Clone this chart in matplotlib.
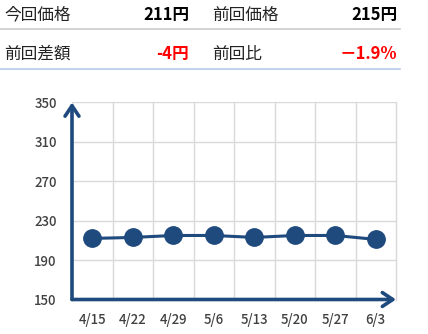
import matplotlib.pyplot as plt
from matplotlib.lines import Line2D

plt.rcParams['font.family'] = ['Noto Sans CJK JP', 'DejaVu Sans']

dates = ['4/15', '4/22', '4/29', '5/6', '5/13', '5/20', '5/27', '6/3']
prices = [212, 213, 215, 215, 213, 215, 215, 211]
yticks = [150, 190, 230, 270, 310, 350]

navy = '#1f4a7e'
W, H = 428, 334

fig = plt.figure(figsize=(W / 100, H / 100), dpi=100)

# header table
def px(x, y):
    return x / W, 1 - y / H

rows = [
    [('今回価格', '211円', 'black'), ('前回価格', '215円', 'black')],
    [('前回差額', '-4円', '#ff0000'), ('前回比', '－1.9%', '#ff0000')],
]
row_y = [15, 54]
cols = [(4, 189), (212, 397)]
for r, row in enumerate(rows):
    for c, (lab, val, col) in enumerate(row):
        fig.text(*px(cols[c][0], row_y[r]), lab, ha='left', va='center',
                 fontsize=12, color='#222222')
        fig.text(*px(cols[c][1], row_y[r]), val, ha='right', va='center',
                 fontsize=12, color=col, fontweight='bold')
fig.add_artist(Line2D([0, 400 / W], [1 - 28.5 / H] * 2, color='#cccccc', lw=1.2))
fig.add_artist(Line2D([0, 400 / W], [1 - 68.5 / H] * 2, color='#b4cde8', lw=1.2))

# chart
ax = fig.add_axes([72 / W, 1 - 299.5 / H, (396 - 72) / W, (299.5 - 102.5) / H])
x = range(len(dates))
ax.plot(x, prices, color=navy, lw=2.2, marker='o', markersize=12.5, zorder=3)
ax.set_xlim(-0.5, len(dates) - 0.5)
ax.set_ylim(150, 350)
ax.set_yticks(yticks)
ax.set_xticks(list(x))
ax.set_xticklabels(dates)
for v in yticks:
    ax.axhline(v, color='#d9d9d9', lw=1, zorder=0)
for i in range(len(dates) + 1):
    ax.axvline(i - 0.5, color='#d9d9d9', lw=1, zorder=0, clip_on=False)
for s in ax.spines.values():
    s.set_visible(False)
ax.tick_params(length=0, labelsize=9.5, colors='#404040')
ax.tick_params(axis='x', pad=10)
ax.tick_params(axis='y', pad=11)
for t in ax.get_xticklabels() + ax.get_yticklabels():
    t.set_fontweight('medium')

arrow = dict(arrowstyle='->,head_length=0.75,head_width=0.5', color=navy, lw=2.6,
             shrinkA=0, shrinkB=0)
ax.annotate('', xy=(0, 1.0), xytext=(0, 0), xycoords='axes fraction',
            arrowprops=arrow, annotation_clip=False)
ax.annotate('', xy=(1.0, 0), xytext=(0, 0), xycoords='axes fraction',
            arrowprops=arrow, annotation_clip=False)

fig.savefig('out.png', dpi=100)
